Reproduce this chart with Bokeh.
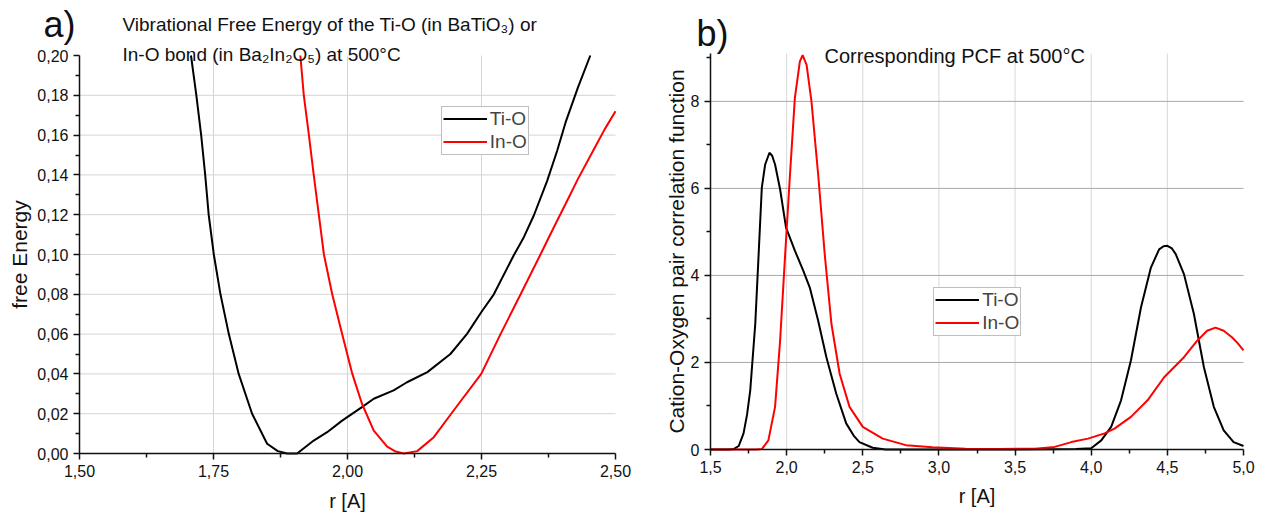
from bokeh.plotting import figure
from bokeh.layouts import row
from bokeh.models import (Range1d, Label, Legend, LegendItem, FixedTicker,
                          CustomJSTickFormatter, ColumnDataSource)
from bokeh.embed import file_html
from bokeh.resources import INLINE

FONT = "Liberation Sans"

# ---------------- data: panel a) vibrational free energy ----------------
fe_tio_r = [1.708, 1.718, 1.727, 1.7345, 1.741, 1.7506, 1.763, 1.7786, 1.797, 1.822,
            1.850, 1.870, 1.8875, 1.906, 1.937, 1.962, 1.990, 2.027, 2.049, 2.086,
            2.111, 2.149, 2.192, 2.223, 2.2495, 2.273, 2.310, 2.329, 2.3476, 2.3725,
            2.391, 2.407, 2.430, 2.453]
fe_tio_e = [0.200, 0.180, 0.160, 0.140, 0.120, 0.100, 0.080, 0.060, 0.040, 0.020,
            0.0049, 0.0012, 0.0, 0.0, 0.0065, 0.0107, 0.0165, 0.0233, 0.0275, 0.0317,
            0.0358, 0.0409, 0.050, 0.0601, 0.071, 0.080, 0.0995, 0.1087, 0.1196, 0.137,
            0.152, 0.1665, 0.184, 0.200]

fe_ino_r = [1.912, 1.9185, 1.928, 1.937, 1.9465, 1.956, 1.9715, 1.990, 2.009, 2.027,
            2.049, 2.074, 2.090, 2.105, 2.130, 2.161, 2.198, 2.2495, 2.2855, 2.323,
            2.360, 2.385, 2.407, 2.430, 2.460, 2.480, 2.500]
fe_ino_e = [0.200, 0.180, 0.160, 0.140, 0.120, 0.100, 0.080, 0.060, 0.040, 0.025,
            0.0115, 0.0035, 0.001, 0.0, 0.0012, 0.0082, 0.0216, 0.040, 0.060, 0.080,
            0.100, 0.1137, 0.1255, 0.138, 0.153, 0.163, 0.172]

# ---------------- data: panel b) pair correlation function ----------------
pcf_tio_r = [1.50, 1.62, 1.652, 1.685, 1.717, 1.740, 1.761, 1.794, 1.815, 1.837,
             1.859, 1.887, 1.905, 1.924, 1.957, 1.996, 2.054, 2.109, 2.152, 2.207,
             2.261, 2.326, 2.391, 2.440, 2.478, 2.565, 2.650, 3.00, 3.50, 3.90,
             4.00, 4.066, 4.131, 4.196, 4.261, 4.327, 4.392, 4.446, 4.475, 4.500,
             4.530, 4.555, 4.609, 4.674, 4.740, 4.805, 4.870, 4.935, 5.00]
pcf_tio_g = [0.0, 0.0, 0.01, 0.08, 0.37, 0.80, 1.36, 2.89, 4.41, 6.02,
             6.55, 6.82, 6.75, 6.55, 5.98, 5.10, 4.57, 4.11, 3.72, 2.96,
             2.12, 1.28, 0.60, 0.32, 0.17, 0.04, 0.0, 0.0, 0.0, 0.01,
             0.03, 0.21, 0.52, 1.13, 2.05, 3.27, 4.18, 4.60, 4.67, 4.68,
             4.62, 4.49, 4.03, 3.12, 1.89, 0.98, 0.44, 0.17, 0.08]

pcf_ino_r = [1.50, 1.80, 1.837, 1.880, 1.924, 1.957, 1.989, 2.022, 2.054, 2.087,
             2.105, 2.131, 2.163, 2.207, 2.250, 2.294, 2.348, 2.413, 2.500, 2.631,
             2.783, 2.957, 3.174, 3.40, 3.63, 3.76, 3.87, 3.979, 4.088, 4.153,
             4.261, 4.370, 4.479, 4.609, 4.696, 4.761, 4.816, 4.870, 4.924, 4.960,
             5.00]
pcf_ino_g = [0.0, 0.0, 0.01, 0.21, 0.98, 2.50, 4.41, 6.32, 8.08, 8.92,
             9.06, 8.84, 8.00, 6.32, 4.49, 2.89, 1.74, 0.98, 0.52, 0.25,
             0.10, 0.05, 0.02, 0.01, 0.02, 0.06, 0.17, 0.25, 0.37, 0.48,
             0.75, 1.13, 1.66, 2.12, 2.50, 2.73, 2.80, 2.73, 2.58, 2.45,
             2.28]

series_names = ["Ti-O", "In-O"]
series_colors = ["#000000", "#ff0000"]

a_xlim = (1.5, 2.5)
a_ylim = (0.0, 0.2)
a_xticks = [1.50, 1.75, 2.00, 2.25, 2.50]
a_xminor = [1.625, 1.875, 2.125, 2.375]
a_yticks = [0.00, 0.02, 0.04, 0.06, 0.08, 0.10, 0.12, 0.14, 0.16, 0.18, 0.20]
a_yminor = [0.01, 0.03, 0.05, 0.07, 0.09, 0.11, 0.13, 0.15, 0.17, 0.19]
a_xgrid = [1.75, 2.00, 2.25]
a_ygrid = [0.02, 0.04, 0.06, 0.08, 0.10, 0.12, 0.14, 0.16, 0.18]

b_xlim = (1.5, 5.0)
b_ylim = (0.0, 9.1)
b_xticks = [1.5, 2.0, 2.5, 3.0, 3.5, 4.0, 4.5, 5.0]
b_xminor = [1.75, 2.25, 2.75, 3.25, 3.75, 4.25, 4.75]
b_yticks = [0, 2, 4, 6, 8]
b_yminor = [1, 3, 5, 7, 9]
b_xgrid = [2.0, 2.5, 3.0, 3.5, 4.0, 4.5]
b_ygrid = [2, 4, 6, 8]

# legend boxes (data coords of bottom-left corner)
a_legend_at = (2.175, 0.150)
b_legend_at = (2.966, 2.60)

# ---------------- layout constants (pixels) ----------------
H = 515


def make_panel(width, xlim, ylim, frame_left, frame_right, frame_top, frame_bottom):
    """Frame covers the whole canvas; data area is placed by the ranges,
    axes are drawn at fixed locations so that all texts sit inside the frame."""
    ppx = (frame_right - frame_left) / (xlim[1] - xlim[0])
    ppy = (frame_bottom - frame_top) / (ylim[1] - ylim[0])
    xr = Range1d(xlim[0] - frame_left / ppx, xlim[0] + (width - frame_left) / ppx)
    yr = Range1d(ylim[0] - (H - frame_bottom) / ppy, ylim[0] + frame_bottom / ppy)
    p = figure(width=width, height=H, x_range=xr, y_range=yr,
               output_backend="svg", toolbar_location=None,
               min_border=0, min_border_left=0, min_border_right=0,
               min_border_top=0, min_border_bottom=0)
    p.outline_line_color = None
    p.background_fill_color = "white"
    p.border_fill_color = "white"
    p.grid.visible = False
    p.xaxis.fixed_location = ylim[0]
    p.yaxis.fixed_location = xlim[0]
    p.xaxis.bounds = xlim
    p.yaxis.bounds = ylim
    return p, ppx, ppy


def style_axes(p, xt, xm, yt, ym, xdec, ydec):
    p.xaxis.ticker = FixedTicker(ticks=xt, minor_ticks=xm)
    p.yaxis.ticker = FixedTicker(ticks=yt, minor_ticks=ym)
    p.xaxis.formatter = CustomJSTickFormatter(
        code="return tick.toFixed(%d).replace('.', ',');" % xdec)
    p.yaxis.formatter = CustomJSTickFormatter(
        code="return tick.toFixed(%d).replace('.', ',');" % ydec)
    for ax in (p.xaxis[0], p.yaxis[0]):
        ax.axis_line_color = "#111111"
        ax.axis_line_width = 1.5
        ax.major_tick_line_color = "#111111"
        ax.major_tick_line_width = 1.5
        ax.minor_tick_line_color = "#111111"
        ax.minor_tick_line_width = 1.5
        ax.major_tick_in = 0
        ax.major_tick_out = 6
        ax.minor_tick_in = 0
        ax.minor_tick_out = 4
        ax.major_label_text_font = FONT
        ax.major_label_text_font_size = "16px"
        ax.major_label_text_color = "#111111"
        ax.axis_label_text_font = FONT
        ax.axis_label_text_font_size = "20px"
        ax.axis_label_text_font_style = "normal"
        ax.axis_label_text_color = "#111111"
    p.yaxis.axis_label_text_font_size = "21px"


def add_grid(p, xg, yg, xlim, ylim, xcolor, ycolor):
    p.segment(x0=xg, y0=[ylim[0]] * len(xg), x1=xg, y1=[ylim[1]] * len(xg),
              line_color=xcolor, line_width=1, level="underlay")
    p.segment(x0=[xlim[0]] * len(yg), y0=yg, x1=[xlim[1]] * len(yg), y1=yg,
              line_color=ycolor, line_width=1, level="underlay")


def make_legend(p, renderers, at, xr, yr, ppx, ppy):
    loc = ((at[0] - xr.start) * ppx, (at[1] - yr.start) * ppy)
    leg = Legend(items=[LegendItem(label=n, renderers=[r]) for n, r in zip(series_names, renderers)],
                 location=loc, margin=0, padding=1, spacing=1,
                 label_text_font=FONT, label_text_font_size="19px",
                 label_height=21, glyph_height=21, glyph_width=44, label_standoff=3,
                 border_line_color="#7f7f7f", border_line_width=1,
                 background_fill_color="white", background_fill_alpha=1.0)
    p.add_layout(leg, "center")


def screen_label(p, x, y, text, size):
    # x, y are canvas pixels from the top-left corner
    p.add_layout(Label(x=x, y=H - y, x_units="screen", y_units="screen", text=text,
                       text_font=FONT, text_font_size=size, text_baseline="middle",
                       text_align="left", text_color="#111111"))


# ---------------- panel a ----------------
p1, ppx1, ppy1 = make_panel(640, a_xlim, a_ylim, 79, 615, 55, 453)
style_axes(p1, a_xticks, a_xminor, a_yticks, a_yminor, 2, 2)
p1.xaxis.axis_label = "r [A]"
p1.yaxis.axis_label = "free Energy"
p1.xaxis.axis_label_standoff = 10
p1.yaxis.axis_label_standoff = 3
add_grid(p1, a_xgrid, a_ygrid, a_xlim, a_ylim, "#d4d4d4", "#d4d4d4")

src_a1 = ColumnDataSource(dict(x=fe_tio_r, y=fe_tio_e))
src_a2 = ColumnDataSource(dict(x=fe_ino_r, y=fe_ino_e))
ra1 = p1.line("x", "y", source=src_a1, color=series_colors[0], line_width=2)
ra2 = p1.line("x", "y", source=src_a2, color=series_colors[1], line_width=2)
make_legend(p1, [ra1, ra2], a_legend_at, p1.x_range, p1.y_range, ppx1, ppy1)

screen_label(p1, 43, 24, "a)", "36px")
screen_label(p1, 122, 24, "Vibrational Free Energy of the Ti-O (in BaTiO\u2083) or", "19px")
screen_label(p1, 122, 54, "In-O bond  (in Ba\u2082In\u2082O\u2085) at 500\u00b0C", "19px")

# ---------------- panel b ----------------
p2, ppx2, ppy2 = make_panel(615, b_xlim, b_ylim, 70, 603, 53, 449)
style_axes(p2, b_xticks, b_xminor, b_yticks, b_yminor, 1, 0)
p2.xaxis.axis_label = "r [A]"
p2.yaxis.axis_label = "Cation-Oxygen pair correlation function"
p2.xaxis.axis_label_standoff = 9
p2.yaxis.axis_label_standoff = 0
add_grid(p2, b_xgrid, b_ygrid, b_xlim, b_ylim, "#d8d8d8", "#a8a8a8")

src_b1 = ColumnDataSource(dict(x=pcf_tio_r, y=pcf_tio_g))
src_b2 = ColumnDataSource(dict(x=pcf_ino_r, y=pcf_ino_g))
rb1 = p2.line("x", "y", source=src_b1, color=series_colors[0], line_width=2)
rb2 = p2.line("x", "y", source=src_b2, color=series_colors[1], line_width=2)
make_legend(p2, [rb1, rb2], b_legend_at, p2.x_range, p2.y_range, ppx2, ppy2)

screen_label(p2, 56, 33, "b)", "36px")
screen_label(p2, 184, 55, "Corresponding PCF at 500\u00b0C", "20px")

layout = row(p1, p2)
open("out.html", "w").write(file_html(layout, INLINE))
